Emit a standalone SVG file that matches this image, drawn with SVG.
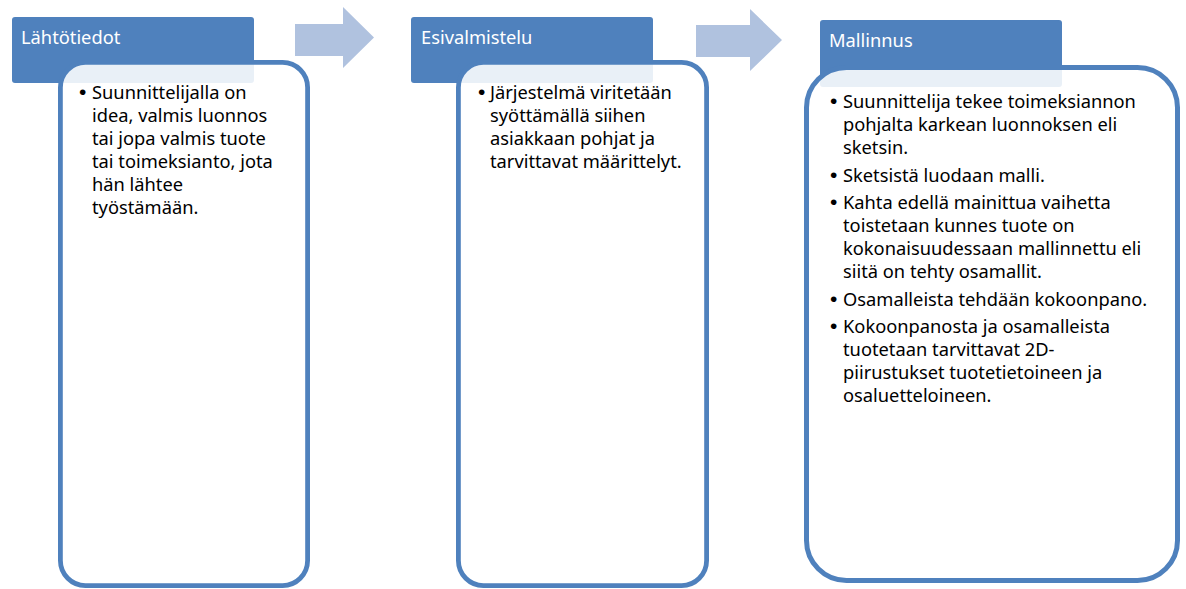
<svg xmlns="http://www.w3.org/2000/svg" width="1186" height="589" viewBox="0 0 1186 589">
<style>
.hdr{fill:#4F81BD}
.box{fill:#FFFFFF;fill-opacity:0.88;stroke:#4F81BD;stroke-width:4.8}
.ht{font-family:"Noto Sans","Open Sans",sans-serif;font-size:18.3px;fill:#FFFFFF}
.bt{font-family:"Noto Sans","Open Sans",sans-serif;font-size:18.3px;fill:#000000}
.bu{font-family:"Liberation Sans",Arial,sans-serif;font-size:21px;fill:#000000}
.arr{fill:#B0C2DF}
</style>
<g id="connectors">
<polygon class="arr" points="295,24 343,24 343,7 374,37.5 343,68 343,56 295,56"/>
<polygon class="arr" points="696,25 750,25 750,9 782,40 750,71 750,57 696,57"/>
</g>
<g id="node-lahtotiedot">
<rect class="hdr" x="12" y="17" width="242" height="66" rx="3"/>
<rect class="box" x="60.4" y="62.4" width="247.2" height="523.2" rx="25"/>
<text class="ht" x="21" y="43.5">Lähtötiedot</text>
<text class="bu" x="79" y="99">•</text>
<text class="bt" x="92" y="99">Suunnittelijalla on</text>
<text class="bt" x="92" y="122">idea, valmis luonnos</text>
<text class="bt" x="92" y="145">tai jopa valmis tuote</text>
<text class="bt" x="92" y="168">tai toimeksianto, jota</text>
<text class="bt" x="92" y="191">hän lähtee</text>
<text class="bt" x="92" y="214">työstämään.</text>
</g>
<g id="node-esivalmistelu">
<rect class="hdr" x="411" y="17" width="242" height="66" rx="3"/>
<rect class="box" x="458.4" y="62.4" width="248.2" height="523.2" rx="25"/>
<text class="ht" x="421" y="43.5">Esivalmistelu</text>
<text class="bu" x="478" y="99">•</text>
<text class="bt" x="490" y="99">Järjestelmä viritetään</text>
<text class="bt" x="490" y="122">syöttämällä siihen</text>
<text class="bt" x="490" y="145">asiakkaan pohjat ja</text>
<text class="bt" x="490" y="168">tarvittavat määrittelyt.</text>
</g>
<g id="node-mallinnus">
<rect class="hdr" x="820" y="20" width="242" height="67" rx="3"/>
<rect class="box" x="806.5" y="67.5" width="371" height="513" rx="40" style="stroke-width:5"/>
<text class="ht" x="829" y="47">Mallinnus</text>
<text class="bu" x="830" y="108">•</text>
<text class="bt" x="843" y="108">Suunnittelija tekee toimeksiannon</text>
<text class="bt" x="843" y="131">pohjalta karkean luonnoksen eli</text>
<text class="bt" x="843" y="154">sketsin.</text>
<text class="bu" x="830" y="182">•</text>
<text class="bt" x="843" y="182">Sketsistä luodaan malli.</text>
<text class="bu" x="830" y="209">•</text>
<text class="bt" x="843" y="209">Kahta edellä mainittua vaihetta</text>
<text class="bt" x="843" y="232">toistetaan kunnes tuote on</text>
<text class="bt" x="843" y="255">kokonaisuudessaan mallinnettu eli</text>
<text class="bt" x="843" y="278">siitä on tehty osamallit.</text>
<text class="bu" x="830" y="306">•</text>
<text class="bt" x="843" y="306">Osamalleista tehdään kokoonpano.</text>
<text class="bu" x="830" y="333">•</text>
<text class="bt" x="843" y="333">Kokoonpanosta ja osamalleista</text>
<text class="bt" x="843" y="356">tuotetaan tarvittavat 2D-</text>
<text class="bt" x="843" y="379">piirustukset tuotetietoineen ja</text>
<text class="bt" x="843" y="402">osaluetteloineen.</text>
</g>
</svg>
